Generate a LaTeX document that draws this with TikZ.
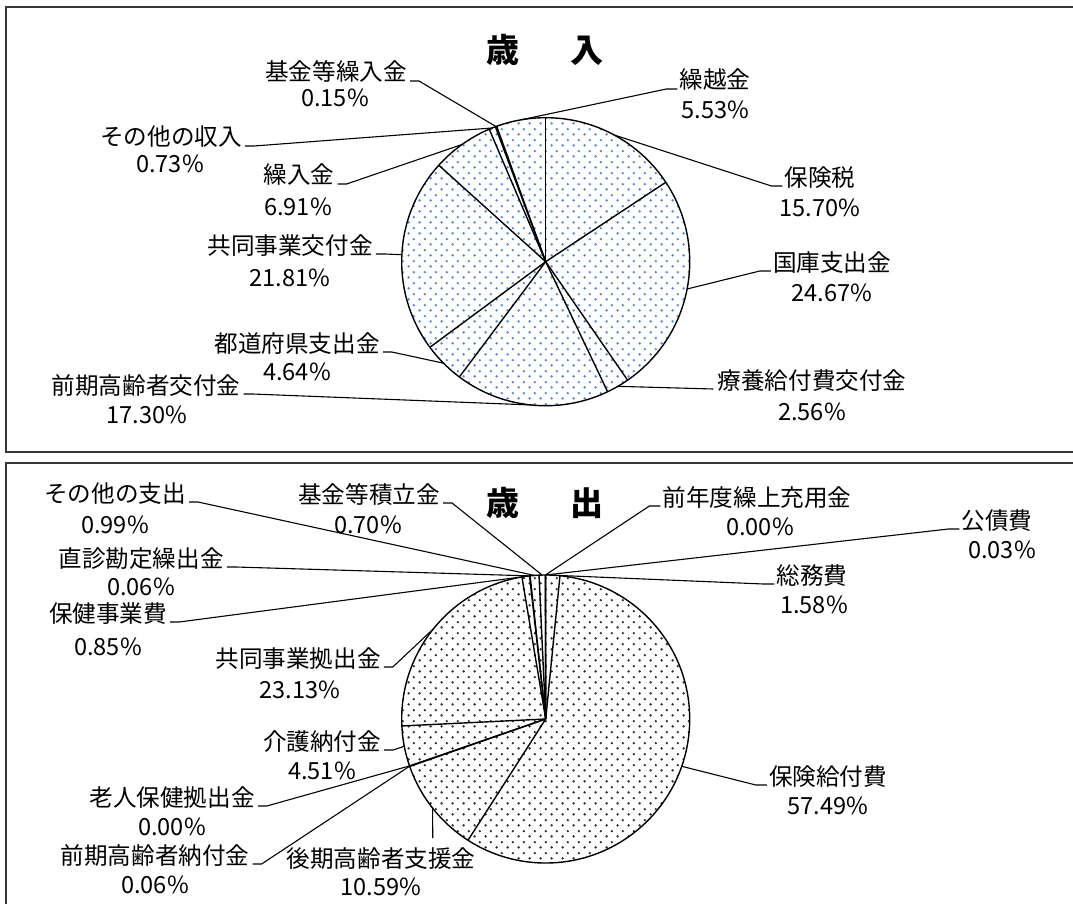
\documentclass[tikz,border=0pt]{standalone}
\usepackage{fontspec}
\newfontfamily\jp{Noto Sans CJK JP}
\usetikzlibrary{patterns.meta,calc}
\pgfdeclarepattern{
  name=qdots, type=uncolored,
  bottom left={\pgfpoint{0pt}{0pt}},
  top right={\pgfpoint{10.7pt}{10.7pt}},
  tile size={\pgfpoint{10.7pt}{10.7pt}},
  code={
    \pgfpathcircle{\pgfpoint{2.675pt}{2.675pt}}{1.35pt}
    \pgfpathcircle{\pgfpoint{8.025pt}{8.025pt}}{1.35pt}
    \pgfusepath{fill}
  }
}
\definecolor{dotblue}{RGB}{85,135,210}
\definecolor{dotgray}{RGB}{50,50,50}
\definecolor{framec}{RGB}{55,55,55}
\tikzset{
  lbl/.style={font=\jp\fontsize{23.6pt}{28pt}\selectfont, inner sep=0pt, anchor=base, text=black},
  ttl/.style={font=\jp\bfseries\fontsize{33pt}{36pt}\selectfont, inner sep=0pt, anchor=base, text=black},
  lead/.style={draw=black, line width=1.1pt},
  pieline/.style={draw=black, line width=1.4pt},
  frame/.style={draw=framec, line width=1.8pt},
}
\begin{document}
\begin{tikzpicture}[x=1pt,y=-1pt]
\useasboundingbox (0,0) rectangle (1073,904);
% frames
\draw[frame] (1090,7) -- (6,7) -- (6,452) -- (1090,452);
\draw[frame] (1090,463) -- (6,463) -- (6,920);

% ===== top pie (revenue) =====
\coordinate (C1) at (545.7,261.7);
\fill[pattern=qdots, pattern color=dotblue] (C1) circle (144pt);
\foreach \a in {0,56.52,145.33,154.55,216.83,233.53,312.05,336.92,339.55,340.09}
  \draw[pieline] (C1) -- ++(\a-90:144);
\draw[pieline] (C1) circle (144pt);

\path (C1) ++(28.26-90:144) coordinate (a1);
\path (C1) ++(100.93-90:144) coordinate (a2);
\path (C1) ++(149.94-90:144) coordinate (a3);
\path (C1) ++(185.69-90:144) coordinate (a4);
\path (C1) ++(225.18-90:144) coordinate (a5);
\path (C1) ++(272.79-90:144) coordinate (a6);
\path (C1) ++(324.49-90:144) coordinate (a7);
\path (C1) ++(338.24-90:144) coordinate (a8);
\path (C1) ++(339.82-90:144) coordinate (a9);
\path (C1) ++(350.05-90:144) coordinate (a10);

\node[ttl] (t1) at (545,62.5) {歳\hspace{52pt}入};

\node[lbl] (k1) at (820,186) {保険税};
\node[lbl] (k1v) at (820,216.6) {15.70\%};
\node[lbl] (k2) at (832,271) {国庫支出金};
\node[lbl] (k2v) at (832,301.6) {24.67\%};
\node[lbl] (k3) at (812,389) {療養給付費交付金};
\node[lbl] (k3v) at (812,420.6) {2.56\%};
\node[lbl] (k4) at (146,394) {前期高齢者交付金};
\node[lbl] (k4v) at (147,423.6) {17.30\%};
\node[lbl] (k5) at (297,352) {都道府県支出金};
\node[lbl] (k5v) at (297,380.6) {4.64\%};
\node[lbl] (k6) at (290,254) {共同事業交付金};
\node[lbl] (k6v) at (290,286.6) {21.81\%};
\node[lbl] (k7) at (299,184) {繰入金};
\node[lbl] (k7v) at (298,215.3) {6.91\%};
\node[lbl] (k8) at (171,146) {その他の収入};
\node[lbl] (k8v) at (170,173) {0.73\%};
\node[lbl] (k9) at (336,81) {基金等繰入金};
\node[lbl] (k9v) at (335,107) {0.15\%};
\node[lbl] (k10) at (715,89) {繰越金};
\node[lbl] (k10v) at (715.5,118.6) {5.53\%};

\draw[lead] (a1) -- ($(k1.base west)+(-13,0)$) -- ($(k1.base west)+(-2,0)$);
\draw[lead] (a2) -- ($(k2.base west)+(-13,0)$) -- ($(k2.base west)+(-2,0)$);
\draw[lead] (a3) -- ($(k3.base west)+(-4,0)$);
\draw[lead] (a4) -- ($(k4.base east)+(12,0)$) -- ($(k4.base east)+(3,0)$);
\draw[lead] (a5) -- ($(k5.base east)+(12,0)$) -- ($(k5.base east)+(3,0)$);
\draw[lead] (a6) -- ($(k6.base east)+(12,0)$) -- ($(k6.base east)+(3,0)$);
\draw[lead] (a7) -- ($(k7.base east)+(12,0)$) -- ($(k7.base east)+(3,0)$);
\draw[lead] (a8) -- ($(k8.base east)+(12,0)$) -- ($(k8.base east)+(3,0)$);
\draw[lead] (a9) -- ($(k9.base east)+(12,0)$) -- ($(k9.base east)+(3,0)$);
\draw[lead] (a10) -- ($(k10.base west)+(-13,0)$) -- ($(k10.base west)+(-2,0)$);

% ===== bottom pie (expenditure) =====
\coordinate (C2) at (545.7,719);
\fill[pattern=qdots, pattern color=dotgray] (C2) circle (144pt);
\foreach \a in {0,5.688,212.652,250.776,250.992,267.228,350.496,353.556,353.772,357.336,359.856,359.964}
  \draw[pieline] (C2) -- ++(\a-90:144);
\draw[pieline] (C2) circle (144pt);

\path (C2) ++(2.84-90:144) coordinate (b1);
\path (C2) ++(109.17-90:144) coordinate (b2);
\path (C2) ++(231.71-90:144) coordinate (b3);
\path (C2) ++(250.88-90:144) coordinate (b4);
\path (C2) ++(250.99-90:144) coordinate (b5);
\path (C2) ++(259.11-90:144) coordinate (b6);
\path (C2) ++(308.86-90:144) coordinate (b7);
\path (C2) ++(352.03-90:144) coordinate (b8);
\path (C2) ++(353.66-90:144) coordinate (b9);
\path (C2) ++(355.55-90:144) coordinate (b10);
\path (C2) ++(358.6-90:144) coordinate (b11);
\path (C2) ++(359.86-90:144) coordinate (b12);
\path (C2) ++(359.91-90:144) coordinate (b13);

\node[ttl] (t2) at (545,515.5) {歳\hspace{52pt}出};

\node[lbl] (m1) at (812,584) {総務費};
\node[lbl] (m1v) at (814,613.6) {1.58\%};
\node[lbl] (m2) at (828,785) {保険給付費};
\node[lbl] (m2v) at (828,814.6) {57.49\%};
\node[lbl] (m3) at (381,867) {後期高齢者支援金};
\node[lbl] (m3v) at (381,895.6) {10.59\%};
\node[lbl] (m4) at (155,864) {前期高齢者納付金};
\node[lbl] (m4v) at (155,893.6) {0.06\%};
\node[lbl] (m5) at (172,806) {老人保健拠出金};
\node[lbl] (m5v) at (172,835.6) {0.00\%};
\node[lbl] (m6) at (322,750) {介護納付金};
\node[lbl] (m6v) at (322,779.6) {4.51\%};
\node[lbl] (m7) at (298,667) {共同事業拠出金};
\node[lbl] (m7v) at (300,698) {23.13\%};
\node[lbl] (m8) at (108,622) {保健事業費};
\node[lbl] (m8v) at (108,655.6) {0.85\%};
\node[lbl] (m9) at (141,567) {直診勘定繰出金};
\node[lbl] (m9v) at (141,595.6) {0.06\%};
\node[lbl] (m10) at (115,502) {その他の支出};
\node[lbl] (m10v) at (115,533.6) {0.99\%};
\node[lbl] (m11) at (369,503) {基金等積立金};
\node[lbl] (m11v) at (368,533.6) {0.70\%};
\node[lbl] (m12) at (757,506) {前年度繰上充用金};
\node[lbl] (m12v) at (760,535.6) {0.00\%};
\node[lbl] (m13) at (997,529) {公債費};
\node[lbl] (m13v) at (1002,558.6) {0.03\%};

\coordinate (u3) at (432.7,838);
\draw[lead] (b1) -- ($(m1.base west)+(-13,0)$) -- ($(m1.base west)+(-2,0)$);
\draw[lead] (b2) -- ($(m2.base west)+(-13,0)$) -- ($(m2.base west)+(-2,0)$);
\draw[lead] (b3) -- (u3);
\draw[lead] (b4) -- ($(m4.base east)+(12,0)$) -- ($(m4.base east)+(3,0)$);
\draw[lead] (b5) -- ($(m5.base east)+(12,0)$) -- ($(m5.base east)+(3,0)$);
\draw[lead] (b6) -- ($(m6.base east)+(12,0)$) -- ($(m6.base east)+(3,0)$);
\draw[lead] (b7) -- ($(m7.base east)+(12,0)$) -- ($(m7.base east)+(3,0)$);
\draw[lead] (b8) -- ($(m8.base east)+(12,0)$) -- ($(m8.base east)+(3,0)$);
\draw[lead] (b9) -- ($(m9.base east)+(12,0)$) -- ($(m9.base east)+(3,0)$);
\draw[lead] (b10) -- ($(m10.base east)+(12,0)$) -- ($(m10.base east)+(3,0)$);
\draw[lead] (b11) -- ($(m11.base east)+(12,0)$) -- ($(m11.base east)+(3,0)$);
\draw[lead] (b12) -- ($(m12.base west)+(-13,0)$) -- ($(m12.base west)+(-2,0)$);
\draw[lead] (b13) -- ($(m13.base west)+(-13,0)$) -- ($(m13.base west)+(-2,0)$);
\end{tikzpicture}
\end{document}
